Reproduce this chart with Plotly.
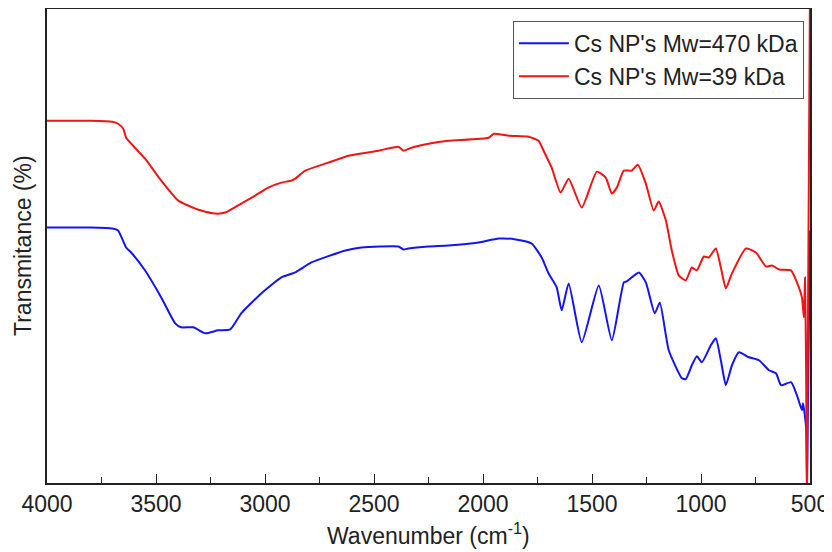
import plotly.graph_objects as go

# Wavenumber (cm-1) and transmittance (arbitrary %)
wn_470 = [4000, 3800, 3700, 3674, 3637, 3614, 3550, 3476, 3412, 3385, 3329, 3274, 3215, 3159,
          3109, 3017, 2925, 2861, 2787, 2631, 2558, 2388, 2365, 2342, 2250, 2158, 2020, 1928,
          1850, 1777, 1731, 1699, 1662, 1639, 1607, 1547, 1469, 1409, 1354, 1341, 1285, 1253,
          1212, 1189, 1148, 1088, 1070, 1042, 1019, 996, 955, 932, 909, 886, 858, 826, 780,
          734, 688, 656, 633, 587, 560, 537, 532, 518, 514, 500]
t_470 = [51.2, 51.2, 51.0, 50.6, 47.2, 46.2, 42.6, 37.2, 32.0, 31.2, 31.2, 30.0, 30.6, 30.8,
         34.0, 38.0, 41.2, 42.2, 44.2, 46.6, 47.2, 47.4, 46.8, 47.0, 47.4, 47.6, 48.2, 49.0,
         48.8, 48.0, 45.2, 42.0, 39.2, 34.6, 40.0, 28.2, 39.6, 28.6, 40.2, 40.4, 42.2, 40.2,
         34.0, 36.2, 26.6, 21.0, 20.8, 23.6, 25.4, 24.2, 27.6, 29.0, 24.6, 19.6, 23.6, 26.2, 25.2,
         24.6, 22.6, 22.0, 19.6, 20.2, 17.6, 14.6, 16.0, 11.2, -2.0, 50.6]

wn_39 = [4000, 3800, 3700, 3674, 3650, 3637, 3550, 3476, 3398, 3352, 3293, 3228, 3182, 3109,
         3045, 2985, 2925, 2879, 2861, 2815, 2709, 2617, 2480, 2388, 2365, 2328, 2250, 2158,
         1974, 1951, 1880, 1791, 1745, 1722, 1685, 1644, 1607, 1547, 1478, 1437, 1409, 1386,
         1354, 1318, 1290, 1253, 1217, 1194, 1161, 1134, 1102, 1070, 1042, 1019, 987, 964,
         932, 909, 886, 858, 794, 748, 702, 675, 642, 587, 560, 537, 528, 523, 518, 514, 500]
t_39 = [72.6, 72.6, 72.4, 72.0, 71.0, 69.2, 65.0, 60.6, 56.6, 55.6, 54.6, 54.0, 54.2, 56.0,
        57.6, 59.2, 60.2, 60.6, 61.0, 62.6, 64.2, 65.6, 66.6, 67.4, 66.6, 67.2, 68.0, 68.6,
        69.2, 70.0, 69.6, 69.4, 68.6, 66.6, 63.2, 58.2, 61.0, 55.2, 62.4, 61.2, 58.0, 59.2,
        62.6, 62.6, 63.8, 60.0, 54.6, 56.4, 52.6, 46.6, 41.6, 40.6, 43.2, 42.6, 45.4, 45.2,
        47.0, 43.2, 39.0, 42.0, 47.0, 46.2, 43.4, 43.6, 42.8, 42.6, 40.2, 37.2, 33.2, 41.2,
        23.2, -2.0, 100.0]

names = ["Cs NP's Mw=470 kDa", "Cs NP's Mw=39 kDa"]
tick_vals = [4000, 3500, 3000, 2500, 2000, 1500, 1000, 500]
minor_vals = [3750, 3250, 2750, 2250, 1750, 1250, 750]
x_title = "Wavenumber (cm<sup>-1</sup>)"
y_title = "Transmitance (%)"

FONT = "Liberation Sans, Arial, sans-serif"
TXT = "#222222"

fig = go.Figure()
fig.add_trace(go.Scatter(x=wn_470, y=t_470, mode="lines", name=names[0],
                         line=dict(color="#1414F0", width=2, shape="spline", smoothing=0.5)))
fig.add_trace(go.Scatter(x=wn_39, y=t_39, mode="lines", name=names[1],
                         line=dict(color="#F01414", width=2, shape="spline", smoothing=0.5)))

fig.update_layout(
    width=832, height=552,
    margin=dict(l=39, r=30, t=1, b=77),
    plot_bgcolor="white", paper_bgcolor="white",
    font=dict(family=FONT, color=TXT),
    showlegend=True,
    legend=dict(x=0.992, y=0.975, xanchor="right", yanchor="top",
                bgcolor="white", bordercolor="#555555", borderwidth=1,
                font=dict(size=23, family=FONT, color=TXT),
                tracegroupgap=0, itemwidth=50),
    xaxis=dict(range=[4000, 500], tickvals=tick_vals,
               ticktext=[str(v) for v in tick_vals], automargin=False,
               showline=True, mirror=True, linecolor=TXT, linewidth=1.5,
               ticks="inside", ticklen=9, tickwidth=1.2, tickcolor=TXT,
               minor=dict(tickvals=minor_vals, ticks="inside", ticklen=6,
                          tickwidth=1.2, tickcolor=TXT),
               showgrid=False, zeroline=False,
               tickfont=dict(size=23, family=FONT, color=TXT)),
    yaxis=dict(range=[0, 95], automargin=False,
               showline=True, mirror=True, linecolor=TXT, linewidth=1.5,
               showticklabels=False, ticks="", showgrid=False, zeroline=False),
    annotations=[
        dict(text=x_title, xref="paper", yref="paper", x=0.5, y=0, yshift=-51,
             xanchor="center", yanchor="middle", showarrow=False,
             font=dict(size=23, family=FONT, color=TXT)),
        dict(text=y_title, xref="paper", yref="paper", x=0, y=0.5, xshift=-24,
             xanchor="center", yanchor="middle", textangle=-90, showarrow=False,
             font=dict(size=23, family=FONT, color=TXT)),
    ],
)

fig.write_html("out.html")
